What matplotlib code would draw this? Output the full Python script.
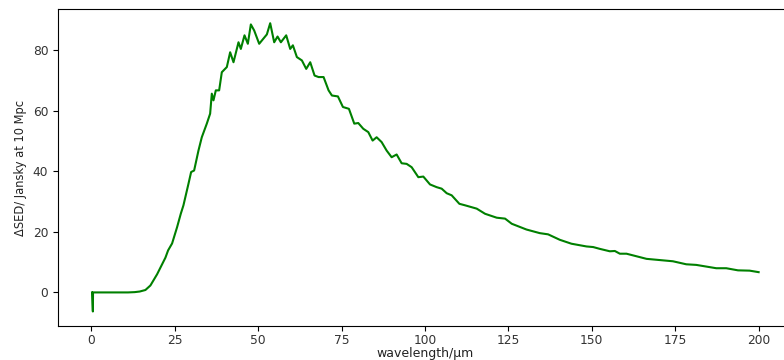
import matplotlib
matplotlib.use("Agg")
import matplotlib.pyplot as plt

# wavelength (um) and Delta SED (Jansky at 10 Mpc)
wavelength = [
    0.2, 0.45, 0.5, 2, 5, 8, 11, 13, 14.5, 16.2, 17.7, 19.7, 22.2, 23, 24.2,
    25.7, 26.8, 27.6, 29.1, 29.9, 30.8, 32.1, 33.1, 34.6, 35.6, 36.1, 36.6,
    37.3, 38.3, 39.1, 40.6, 41.6, 42.6, 44.1, 44.8, 45.9, 46.9, 47.8, 48.8,
    50.3, 52.6, 53.6, 54.8, 55.8, 56.8, 58.4, 59.6, 60.4, 61.6, 63.1, 64.4,
    65.6, 66.9, 68.1, 69.6, 71.1, 72.1, 73.9, 75.4, 77.2, 78.8, 80.0, 81.5,
    83.0, 84.3, 85.5, 87.0, 88.5, 90.0, 91.5, 93.0, 94.5, 96.0, 98.0, 99.5,
    101.5, 103.5, 105.0, 106.5, 108.0, 110.3, 112.0, 115.5, 118.0, 121.5,
    124.0, 126.0, 130.4, 134.4, 136.9, 140.4, 143.9, 148.4, 150.4, 152.4,
    155.4, 156.9, 158.4, 160.4, 166.4, 174.3, 178.3, 181.3, 187.3, 190.3,
    193.8, 197.3, 200.0,
]
delta_sed = [
    0.0, -6.3, 0.0, 0.0, 0.0, 0.0, 0.0, 0.1, 0.3, 0.8, 2.3, 6.0, 11.5, 13.9,
    16.2, 21.6, 26.0, 28.8, 35.9, 39.8, 40.3, 46.9, 51.3, 55.8, 59.1, 65.7,
    63.5, 66.8, 66.8, 72.8, 74.5, 79.4, 76.1, 82.7, 80.5, 85.0, 82.2, 88.6,
    86.6, 82.2, 85.3, 89.0, 82.7, 84.6, 82.7, 85.0, 80.5, 81.7, 77.8, 76.7,
    73.9, 76.1, 71.7, 71.2, 71.2, 66.8, 65.1, 64.8, 61.3, 60.7, 55.8, 56.0,
    54.1, 53.0, 50.2, 51.3, 49.7, 46.9, 44.7, 45.6, 42.7, 42.5, 41.4, 38.1,
    38.3, 35.7, 34.8, 34.3, 32.8, 32.1, 29.3, 28.8, 27.7, 26.0, 24.7, 24.4,
    22.7, 20.8, 19.6, 19.2, 17.4, 16.1, 15.2, 15.0, 14.4, 13.6, 13.7, 12.8,
    12.8, 11.1, 10.3, 9.3, 9.1, 8.0, 8.0, 7.3, 7.2, 6.7,
]

fig = plt.figure(figsize=(7.84, 3.6), dpi=100)
ax = fig.add_axes([58 / 784, 34 / 360, 734 / 784, 317 / 360])

ax.plot(wavelength, delta_sed, color="green", linewidth=1.5)

ax.set_xlim(-10, 210)
ax.set_ylim(-11.1, 93.7)
ax.set_xticks([0, 25, 50, 75, 100, 125, 150, 175, 200])
ax.set_yticks([0, 20, 40, 60, 80])
ax.tick_params(labelsize=8.8, labelcolor="#333333")
ax.tick_params(axis="x", pad=2.5)
ax.set_xlabel("wavelength/\u03bcm", fontsize=9, color="#222222")
ax.xaxis.set_label_coords(0.5, -20.5 / 317)
ax.set_ylabel("\u0394SED/ Jansky at 10 Mpc", fontsize=8.3, color="#222222")

fig.savefig("out.png", dpi=100)
